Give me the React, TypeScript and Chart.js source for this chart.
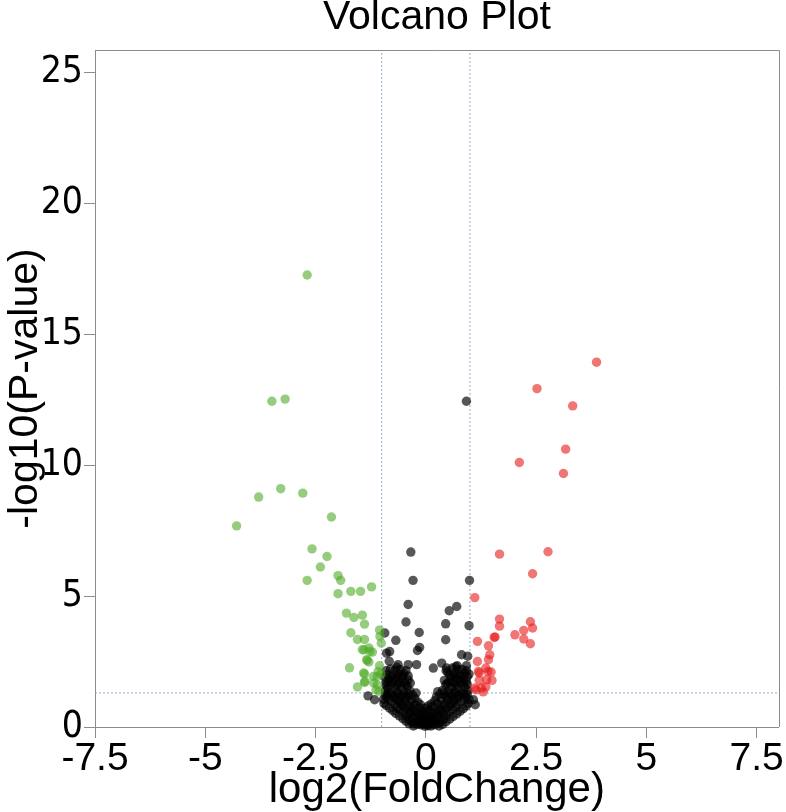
import { useEffect, useRef } from "react";
import { Chart, registerables } from "chart.js";

Chart.register(...registerables);

const TITLE = "Volcano Plot";
const X_TITLE = "log2(FoldChange)";
const Y_TITLE = "-log10(P-value)";

const X_MIN = -7.5;
const X_MAX = 8;
const X_STEP = 2.5;
const Y_MIN = 0;
const Y_MAX = 25.85;
const Y_STEP = 5;

const FC_CUTOFF = 1;
const P_LINE = 1.301;

// up-regulated (red)
const UP: [number, number][] = [
  [3.87, 13.93], [2.52, 12.92], [3.33, 12.26], [3.17, 10.61], [2.12, 10.1], [3.12, 9.68],
  [1.67, 6.6], [2.77, 6.69], [2.42, 5.85], [1.11, 4.94], [1.67, 4.12], [1.67, 3.85],
  [2.37, 4.02], [2.42, 3.78], [2.02, 3.52], [2.22, 3.69], [2.22, 3.36], [2.37, 3.18],
  [1.57, 3.44], [1.17, 3.27], [1.42, 3.1], [1.45, 2.76], [1.42, 2.57], [1.17, 2.5],
  [1.36, 2.25], [1.48, 2.1], [1.21, 2.06], [1.21, 1.78], [1.5, 1.78], [1.19, 2.12],
  [1.36, 1.53], [1.14, 1.42], [1.11, 1.49], [1.26, 1.49], [1.3, 1.34], [1.38, 1.81],
  [1.41, 2.12], [1.55, 3.42],
];

// down-regulated (green)
const DOWN: [number, number][] = [
  [-2.69, 17.26], [-3.49, 12.44], [-3.19, 12.52], [-3.79, 8.78], [-3.29, 9.1], [-2.79, 8.93],
  [-4.29, 7.68], [-2.14, 8.02], [-2.58, 6.8], [-2.24, 6.51], [-2.39, 6.11], [-2.69, 5.6],
  [-1.99, 5.78], [-1.93, 5.6], [-1.7, 5.18], [-1.48, 5.18], [-1.23, 5.35], [-1.99, 5.09],
  [-1.8, 4.35], [-1.63, 4.18], [-1.44, 4.27], [-1.39, 3.93], [-1.7, 3.6], [-1.55, 3.34],
  [-1.39, 3.34], [-1.05, 3.7], [-1.04, 3.46], [-1.01, 3.2], [-1.4, 2.95], [-1.29, 3.02],
  [-1.21, 2.86], [-1.33, 2.54], [-1.29, 2.48], [-1.73, 2.26], [-1.05, 2.34], [-1.08, 2.12],
  [-1.39, 2.03], [-1.02, 2.03], [-1.1, 1.93], [-1.19, 1.93], [-1.38, 1.74], [-1.39, 1.7],
  [-1.18, 1.68], [-1.1, 1.61], [-1.55, 1.53], [-1.13, 1.42], [-1.06, 1.36], [-1.44, 2.95],
  [-1.27, 2.89], [-1.34, 2.57], [-1.41, 2.06],
];

// not significant (black)
const NS: [number, number][] = [
  [-0.34, 6.68], [-0.29, 5.6], [-0.4, 4.68], [-0.45, 4.01], [-0.15, 3.61], [-0.93, 3.59],
  [-0.68, 3.31], [-0.14, 3.04], [-0.19, 2.92], [-0.82, 2.88], [-0.89, 2.82], [-0.63, 2.38],
  [-0.4, 2.38], [-0.21, 2.38], [-0.83, 2.51],
  [0.92, 12.44], [0.99, 5.6], [0.7, 4.6], [0.53, 4.44], [0.45, 3.94], [0.45, 3.33],
  [0.98, 3.87], [0.95, 2.7], [0.81, 2.76], [0.36, 2.44], [0.17, 2.25], [0.47, 2.25],
  [0.71, 2.34], [0.92, 2.34],
  [-1.31, 1.19], [-1.16, 1.04], [1.08, 1.04], [1.12, 0.85],
  [-0.02, 0.03], [0.05, 0.05], [-0.1, 0.08], [0.12, 0.04], [-0.18, 0.1], [0.2, 0.09],
  [-0.26, 0.12], [0.27, 0.14], [0.0, 0.15], [-0.07, 0.2], [0.08, 0.18], [-0.15, 0.22],
  [0.16, 0.24], [-0.32, 0.18], [0.33, 0.2], [0.03, 0.1], [-0.05, 0.12],
  [-0.22, 0.3], [0.24, 0.32], [-0.3, 0.35], [0.31, 0.37], [-0.38, 0.28], [0.4, 0.3],
  [-0.12, 0.38], [0.1, 0.4], [0.0, 0.33], [-0.44, 0.42], [0.46, 0.44], [-0.28, 0.45],
  [0.28, 0.48], [-0.05, 0.45], [0.18, 0.42],
  [-0.5, 0.55], [0.52, 0.57], [-0.36, 0.58], [0.37, 0.6], [-0.2, 0.55], [0.22, 0.58],
  [-0.58, 0.65], [0.6, 0.66], [-0.45, 0.7], [0.46, 0.72], [-0.3, 0.68], [0.32, 0.7],
  [-0.1, 0.62], [0.08, 0.65], [-0.65, 0.75], [0.68, 0.76], [-0.15, 0.74], [0.16, 0.78],
  [-0.7, 0.85], [0.72, 0.86], [-0.55, 0.88], [0.56, 0.9], [-0.4, 0.82], [0.42, 0.84],
  [-0.25, 0.86], [0.26, 0.9], [-0.78, 0.98], [0.8, 0.98], [-0.62, 1.02], [0.64, 1.03],
  [-0.48, 1.0], [0.5, 1.02], [-0.33, 1.0], [0.35, 1.05], [-0.85, 1.05], [0.88, 1.06],
  [-0.18, 0.95], [0.2, 1.0],
  [-0.88, 1.15], [0.9, 1.18], [-0.72, 1.15], [0.74, 1.16], [-0.58, 1.18], [0.6, 1.2],
  [-0.42, 1.15], [0.44, 1.18], [-0.3, 1.22], [0.32, 1.25], [-0.8, 1.3], [0.82, 1.32],
  [-0.65, 1.32], [0.67, 1.34], [-0.5, 1.35], [0.52, 1.38], [-0.36, 1.38], [0.38, 1.4],
  [-0.92, 1.38], [0.95, 1.4],
  [-0.86, 1.5], [0.88, 1.52], [-0.7, 1.48], [0.72, 1.5], [-0.55, 1.52], [0.58, 1.55],
  [-0.42, 1.55], [0.45, 1.6], [-0.78, 1.62], [0.8, 1.64], [-0.62, 1.65], [0.65, 1.68],
  [-0.48, 1.7], [0.52, 1.72], [-0.9, 1.7], [0.92, 1.74], [-0.35, 1.68],
  [-0.82, 1.82], [0.84, 1.85], [-0.68, 1.85], [0.7, 1.86], [-0.55, 1.88], [0.58, 1.9],
  [-0.75, 1.98], [0.76, 2.0], [-0.62, 2.02], [0.64, 2.04], [-0.88, 2.0], [0.88, 2.05],
  [-0.5, 2.05], [0.5, 2.08], [-0.4, 1.95],
  [-0.7, 2.15], [0.72, 2.18], [-0.8, 2.22], [0.82, 2.2], [-0.58, 2.2], [0.6, 2.25],
  [-0.04, 0.25], [0.06, 0.28], [-0.12, 0.14], [0.14, 0.12], [-0.2, 0.18], [0.22, 0.19],
  [-0.08, 0.32], [0.1, 0.3], [-0.16, 0.46], [0.14, 0.52], [-0.25, 0.6], [0.28, 0.62],
  [-0.38, 0.5], [0.4, 0.52], [-0.52, 0.78], [0.54, 0.8], [-0.35, 0.8], [0.36, 0.84],
  [-0.6, 0.95], [0.62, 0.95], [-0.45, 1.1], [0.47, 1.12], [-0.68, 1.08], [0.7, 1.1],
  [-0.92, 1.22], [-0.86, 1.28], [-0.76, 1.22], [-0.63, 1.25], [-0.52, 1.22], [-0.4, 1.28],
  [-0.9, 1.6], [-0.84, 1.72], [-0.74, 1.75], [-0.66, 1.58], [-0.58, 1.7], [-0.46, 1.62],
  [-0.4, 1.8], [-0.93, 1.9], [-0.78, 1.9], [-0.64, 1.92], [-0.52, 1.95], [-0.45, 2.15],
  [-0.66, 2.28], [-0.9, 2.15],
  [0.94, 1.25], [0.86, 1.26], [0.76, 1.24], [0.64, 1.27], [0.54, 1.28], [0.42, 1.3],
  [0.94, 1.62], [0.86, 1.7], [0.76, 1.76], [0.68, 1.6], [0.6, 1.72], [0.48, 1.66],
  [0.42, 1.78], [0.94, 1.92], [0.8, 1.94], [0.66, 1.95], [0.54, 1.98], [0.46, 2.15],
  [0.68, 2.3], [0.92, 2.15], [0.98, 2.02],
  [-0.96, 1.05], [-0.95, 0.9], [-0.9, 0.82], [-0.82, 0.72], [-0.75, 0.62], [-0.68, 0.52],
  [-0.6, 0.42], [-0.52, 0.32], [-0.45, 0.22], [-0.38, 0.12], [-0.28, 0.04],
  [0.98, 1.05], [0.96, 0.9], [0.92, 0.8], [0.85, 0.7], [0.78, 0.6], [0.7, 0.5],
  [0.62, 0.4], [0.54, 0.3], [0.46, 0.2], [0.38, 0.1], [0.3, 0.04],
  [-0.25, 1.1], [-0.22, 1.3], [0.24, 1.15], [0.27, 1.35],
  [-0.12, 0.85], [0.12, 0.88], [-0.06, 0.55], [0.04, 0.58], [-0.02, 0.72], [0.05, 0.8],
];

const FONT = "'Liberation Sans', Arial, sans-serif";
const NARROW_FONT = "'Liberation Sans Narrow', 'Arial Narrow', 'DejaVu Sans Condensed', 'Liberation Sans', sans-serif";
const AXIS_GRAY = "#8c8c8c";
const CUT_COLOR = "#93aacb";

const toXY = (arr: [number, number][]) => arr.map(([x, y]) => ({ x, y }));

const framePlugin = {
  id: "frame",
  afterDraw(chart: any) {
    const { ctx, chartArea } = chart;
    ctx.save();
    ctx.strokeStyle = AXIS_GRAY;
    ctx.lineWidth = 1;
    ctx.beginPath();
    ctx.moveTo(chartArea.left, Math.round(chartArea.top) + 0.5);
    ctx.lineTo(Math.round(chartArea.right) + 0.5, Math.round(chartArea.top) + 0.5);
    ctx.lineTo(Math.round(chartArea.right) + 0.5, chartArea.bottom);
    ctx.stroke();
    ctx.restore();
  },
};

export default function App() {
  const ref = useRef<HTMLCanvasElement | null>(null);

  useEffect(() => {
    if (!ref.current) return;
    const pointDs = (label: string, data: [number, number][], color: string) => ({
      label,
      data: toXY(data),
      backgroundColor: color,
      borderWidth: 0,
      pointRadius: 4.7,
      pointHoverRadius: 4.7,
      clip: false as any,
      showLine: false,
    });
    const lineDs = (label: string, data: { x: number; y: number }[]) => ({
      label,
      data,
      showLine: true,
      borderColor: CUT_COLOR,
      borderWidth: 1,
      borderDash: [2, 2],
      pointRadius: 0,
      fill: false,
    });

    const chart = new Chart(ref.current, {
      type: "scatter",
      data: {
        datasets: [
          pointDs("Up", UP, "rgba(230,25,25,0.6)"),
          pointDs("Down", DOWN, "rgba(80,170,40,0.6)"),
          pointDs("NS", NS, "rgba(0,0,0,0.66)"),
          lineDs("FC-", [{ x: -FC_CUTOFF, y: Y_MIN }, { x: -FC_CUTOFF, y: Y_MAX }]),
          lineDs("FC+", [{ x: FC_CUTOFF, y: Y_MIN }, { x: FC_CUTOFF, y: Y_MAX }]),
          lineDs("P", [{ x: X_MIN, y: P_LINE }, { x: X_MAX, y: P_LINE }]),
        ] as any,
      },
      options: {
        responsive: false,
        animation: false,
        layout: { padding: { left: 0, right: 7, top: 0, bottom: 0 } },
        plugins: {
          legend: { display: false },
          tooltip: { enabled: false },
          title: {
            display: true,
            fullSize: false,
            text: TITLE,
            color: "#000",
            font: { family: FONT, size: 41, weight: "normal", lineHeight: 0.85 },
            padding: { top: 0, bottom: 15.15 },
          },
        },
        scales: {
          x: {
            type: "linear",
            min: X_MIN,
            max: X_MAX,
            afterFit: (s: any) => { s.height = 85; },
            ticks: {
              stepSize: X_STEP,
              includeBounds: false,
              color: "#000",
              padding: 2,
              font: { family: FONT, size: 39, lineHeight: 1 },
              maxRotation: 0,
              autoSkip: false,
              callback: (v: any) => String(v),
            },
            grid: {
              drawOnChartArea: false,
              drawTicks: true,
              tickLength: 11,
              color: AXIS_GRAY,
            },
            border: { display: true, color: AXIS_GRAY, width: 1 },
            title: {
              display: true,
              text: X_TITLE,
              color: "#000",
              font: { family: FONT, size: 42, lineHeight: 1 },
              padding: { top: 0, bottom: 1 },
            },
          },
          y: {
            type: "linear",
            min: Y_MIN,
            max: Y_MAX,
            afterFit: (s: any) => { s.width = 95; },
            ticks: {
              stepSize: Y_STEP,
              includeBounds: false,
              color: "#000",
              padding: 1,
              font: { family: NARROW_FONT, size: 37, lineHeight: 1 },
              callback: (v: any) => String(v),
            },
            grid: {
              drawOnChartArea: false,
              drawTicks: true,
              tickLength: 11,
              color: AXIS_GRAY,
            },
            border: { display: true, color: AXIS_GRAY, width: 1 },
            title: {
              display: true,
              text: Y_TITLE,
              color: "#000",
              font: { family: FONT, size: 41, lineHeight: 1 },
              padding: { top: 5, bottom: 0 },
            },
          },
        },
      } as any,
      plugins: [framePlugin],
    });
    return () => chart.destroy();
  }, []);

  return (
    <div style={{ position: "absolute", left: 0, top: 0, width: 786, height: 812 }}>
      <canvas ref={ref} width={786} height={812} style={{ display: "block" }} />
    </div>
  );
}
